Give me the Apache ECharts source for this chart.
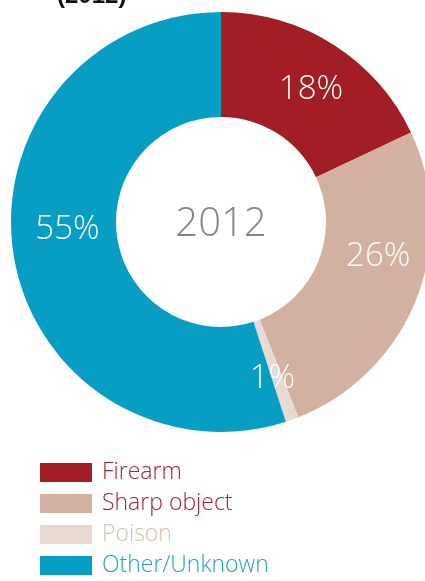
<!DOCTYPE html>
<html>
<head>
<meta charset="utf-8">
<script src="https://cdn.jsdelivr.net/npm/echarts@6/dist/echarts.min.js"></script>
<style>
  html, body { margin: 0; padding: 0; background: #fff; }
  #chart { width: 425px; height: 581px; }
</style>
</head>
<body>
<div id="chart"></div>
<script>
var categories = ['Firearm', 'Sharp object', 'Poison', 'Other/Unknown'];
var shares = [18, 26, 1, 55];
var sliceColors = ['#a31e24', '#d3b0a0', '#e8dad3', '#089ec3'];
var legendTextColors = ['#a8232a', '#a8232a', '#dcbcae', '#20a4cc'];
var yearLabel = '2012';

// small nudges so the labels sit where the original has them
var labelOffsets = [[4, 3], [8, -24], [-3, 6], [5, -18]];

var chart = echarts.init(document.getElementById('chart'));

var pieData = categories.map(function (name, i) {
    return {
        name: name,
        value: shares[i],
        itemStyle: { color: sliceColors[i] },
        label: { offset: labelOffsets[i] }
    };
});

var option = {
    animation: false,
    title: {
        text: '(' + yearLabel + ')',
        left: 52,
        top: -21,
        textStyle: {
            fontFamily: 'Liberation Sans, Arial, sans-serif',
            fontWeight: 'bold',
            fontSize: 24,
            color: '#111'
        }
    },
    legend: {
        orient: 'vertical',
        left: 40,
        top: 461,
        height: 200,
        padding: 0,
        itemWidth: 52,
        itemHeight: 19,
        itemGap: 8,
        icon: 'rect',
        selectedMode: false,
        textStyle: {
            fontFamily: 'Open Sans, Lato, sans-serif',
            fontWeight: 300,
            fontSize: 23,
            padding: [0, 0, 0, 5]
        },
        data: categories.map(function (name, i) {
            return { name: name, textStyle: { color: legendTextColors[i] } };
        })
    },
    graphic: [{
        type: 'text',
        x: 221,
        y: 225,
        style: {
            text: yearLabel,
            textAlign: 'center',
            textVerticalAlign: 'middle',
            fontFamily: 'Open Sans, Lato, sans-serif',
            fontWeight: 300,
            fontSize: 40,
            fill: '#858585'
        }
    }],
    series: [{
        type: 'pie',
        center: [221, 222],
        radius: [105, 210],
        startAngle: 90,
        clockwise: true,
        avoidLabelOverlap: false,
        silent: true,
        label: {
            show: true,
            position: 'inside',
            formatter: '{c}%',
            color: '#fff',
            fontFamily: 'Open Sans, Lato, sans-serif',
            fontWeight: 300,
            fontSize: 33
        },
        labelLine: { show: false },
        data: pieData
    }]
};
chart.setOption(option);
</script>
</body>
</html>
